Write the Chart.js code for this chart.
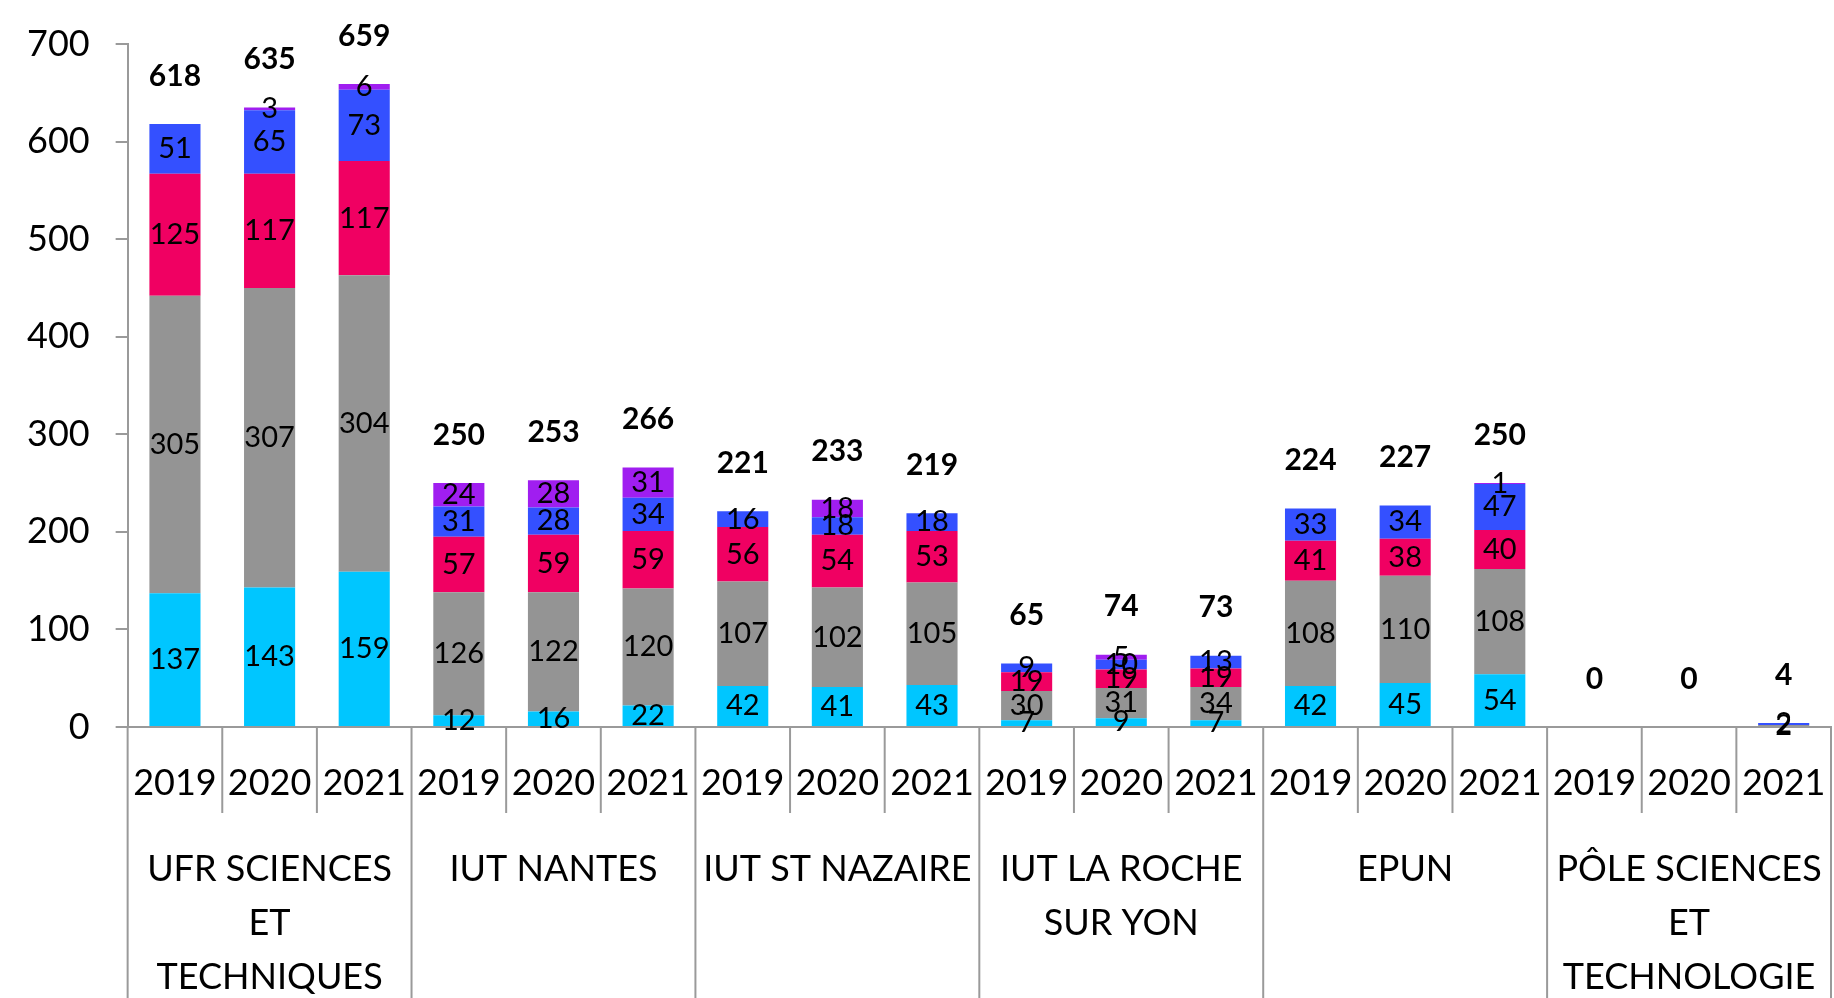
<!DOCTYPE html>
<html>
<head>
<meta charset="utf-8">
<script src="https://cdn.jsdelivr.net/npm/chart.js@4.4.1/dist/chart.umd.min.js"></script>
<style>
  html, body { margin: 0; padding: 0; background: #fff; }
  #wrap { width: 1834px; height: 998px; }
</style>
</head>
<body>
<div id="wrap"><canvas id="myChart" width="1834" height="998"></canvas></div>
<script>
// composantes et années
const groupes = [
  ['UFR SCIENCES', 'ET', 'TECHNIQUES'],
  ['IUT NANTES'],
  ['IUT ST NAZAIRE'],
  ['IUT LA ROCHE', 'SUR YON'],
  ['EPUN'],
  ['PÔLE SCIENCES', 'ET', 'TECHNOLOGIE']
];
const annees = ['2019', '2020', '2021'];

// séries empilées (bas -> haut)
const serieCyan   = [137, 143, 159, 12, 16, 22, 42, 41, 43, 7, 9, 7, 42, 45, 54, 0, 0, 0];
const serieGris   = [305, 307, 304, 126, 122, 120, 107, 102, 105, 30, 31, 34, 108, 110, 108, 0, 0, 2];
const serieRose   = [125, 117, 117, 57, 59, 59, 56, 54, 53, 19, 19, 19, 41, 38, 40, 0, 0, 0];
const serieBleu   = [51, 65, 73, 31, 28, 34, 16, 18, 18, 9, 10, 13, 33, 34, 47, 0, 0, 2];
const serieViolet = [0, 3, 6, 24, 28, 31, 0, 18, 0, 0, 5, 0, 0, 0, 1, 0, 0, 0];

const yTicks = [0, 100, 200, 300, 400, 500, 600, 700];

const police = 'Lato, "Noto Sans", sans-serif';
const gris = '#9a9a9a';

function grafica() {
  const labels = [];
  groupes.forEach(function (g) {
    annees.forEach(function (a) { labels.push(a); });
  });

  const totaux = labels.map(function (_, i) {
    return serieCyan[i] + serieGris[i] + serieRose[i] + serieBleu[i] + serieViolet[i];
  });

  const data = {
    labels: labels,
    datasets: [
      { label: 'cyan', data: serieCyan, backgroundColor: 'rgb(0, 198, 255)' },
      { label: 'gris', data: serieGris, backgroundColor: 'rgb(148, 148, 148)' },
      { label: 'rose', data: serieRose, backgroundColor: 'rgb(240, 0, 98)' },
      { label: 'bleu', data: serieBleu, backgroundColor: 'rgb(52, 80, 255)' },
      { label: 'violet', data: serieViolet, backgroundColor: 'rgb(160, 30, 240)' }
    ]
  };

  // étiquettes des segments, totaux et axe x à deux niveaux
  const etiquettes = {
    id: 'etiquettes',
    afterDraw(chart) {
      const ctx = chart.ctx;
      const xs = chart.scales.x;
      const ys = chart.scales.y;
      const bas = chart.chartArea.bottom;
      ctx.save();
      ctx.fillStyle = '#000';
      ctx.textAlign = 'center';
      ctx.textBaseline = 'middle';

      // valeurs dans les segments
      ctx.font = '29px ' + police;
      chart.data.datasets.forEach(function (ds, i) {
        const meta = chart.getDatasetMeta(i);
        meta.data.forEach(function (el, j) {
          const v = ds.data[j];
          if (!v) return;
          ctx.fillText(String(v), el.x, (el.y + el.base) / 2);
        });
      });

      // totaux en gras
      ctx.font = 'bold 30px ' + police;
      totaux.forEach(function (t, j) {
        ctx.fillText(String(t), xs.getPixelForValue(j), ys.getPixelForValue(t) - 48);
      });

      // années
      ctx.font = '36px ' + police;
      labels.forEach(function (l, j) {
        ctx.fillText(l, xs.getPixelForValue(j), bas + 56);
      });

      // séparateurs
      const n = labels.length;
      const pas = xs.getPixelForValue(1) - xs.getPixelForValue(0);
      ctx.strokeStyle = gris;
      ctx.lineWidth = 2;
      for (let k = 0; k <= n; k++) {
        const x = xs.getPixelForValue(0) + (k - 0.5) * pas;
        const fin = (k % 3 === 0) ? chart.height : bas + 86;
        ctx.beginPath();
        ctx.moveTo(x, bas);
        ctx.lineTo(x, fin);
        ctx.stroke();
      }

      // noms des composantes
      ctx.font = '36px ' + police;
      groupes.forEach(function (g, gi) {
        const cx = (xs.getPixelForValue(gi * 3) + xs.getPixelForValue(gi * 3 + 2)) / 2;
        g.forEach(function (ligne, li) {
          ctx.fillText(ligne, cx, bas + 142 + li * 54);
        });
      });
      ctx.restore();
    }
  };

  const config = {
    type: 'bar',
    data: data,
    options: {
      responsive: false,
      animation: false,
      devicePixelRatio: 1,
      layout: { padding: { left: 1, right: 3, top: 24, bottom: 263 } },
      datasets: { bar: { categoryPercentage: 1, barPercentage: 0.54 } },
      plugins: { legend: { display: false }, tooltip: { enabled: false } },
      scales: {
        x: {
          stacked: true,
          ticks: { display: false },
          grid: { display: false },
          border: { display: true, color: gris, width: 2 }
        },
        y: {
          stacked: true,
          min: 0,
          max: 700,
          afterBuildTicks(axis) {
            axis.ticks = yTicks.map(function (v) { return { value: v }; });
          },
          ticks: { color: '#000', font: { size: 36, family: police, lineHeight: 1 }, padding: 26 },
          grid: { drawOnChartArea: false, tickLength: 12, color: gris, lineWidth: 2 },
          border: { display: true, color: gris, width: 2 }
        }
      }
    },
    plugins: [etiquettes]
  };

  const myChart = new Chart(document.getElementById('myChart'), config);
}

grafica();
</script>
</body>
</html>
